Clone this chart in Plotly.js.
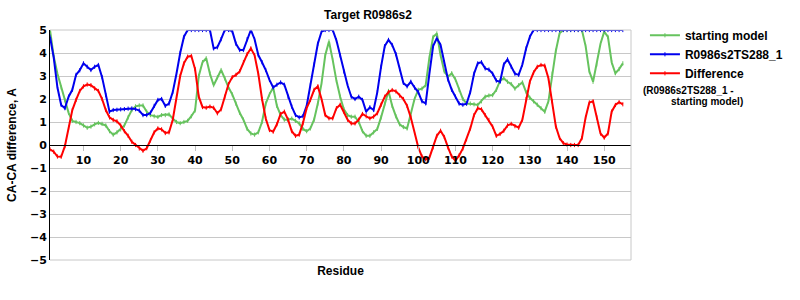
<!DOCTYPE html>
<html>
<head>
<meta charset="utf-8">
<script src="https://cdn.plot.ly/plotly-3.0.1.min.js"></script>
<style>html,body{margin:0;padding:0;background:#fff;}#chart{width:800px;height:300px;}</style>
</head>
<body>
<div id="chart"></div>
<script>
const residues = Array.from({length: 155}, (_, i) => i + 1);

const startingModel = [
  5.0, 3.85, 3.1, 2.5, 1.95, 1.4, 1.05, 1.0, 0.95, 0.85,
  0.75, 0.8, 0.9, 0.96, 0.92, 0.85, 0.6, 0.45, 0.55, 0.68,
  0.85, 1.2, 1.52, 1.68, 1.72, 1.72, 1.45, 1.3, 1.25, 1.22,
  1.3, 1.3, 1.33, 1.15, 1.0, 0.95, 1.0, 1.05, 1.25, 1.5,
  3.0, 3.6, 3.77, 3.1, 2.6, 2.95, 3.26, 2.9, 2.5, 2.2,
  1.8, 1.4, 1.1, 0.7, 0.5, 0.45, 0.55, 1.0, 1.8, 2.2,
  2.5, 1.7, 1.3, 1.1, 1.1, 1.15, 1.05, 0.94, 0.7, 0.6,
  0.72, 1.1, 1.8, 2.68, 3.9, 4.5, 3.7, 2.8, 2.1, 1.55,
  1.3, 1.23, 1.23, 1.0, 0.6, 0.4, 0.4, 0.55, 0.7, 1.2,
  1.8, 2.35, 1.7, 1.25, 0.9, 0.78, 0.72, 1.3, 2.0, 2.4,
  2.45, 2.6, 3.8, 4.7, 4.85, 3.9, 3.2, 2.97, 3.12, 2.85,
  2.4, 2.0, 1.8, 1.8, 1.77, 1.74, 1.9, 2.1, 2.15, 2.17,
  2.4, 2.8, 2.9, 2.75, 2.65, 2.45, 2.6, 2.72, 2.3, 2.05,
  1.9, 1.75, 1.6, 1.45, 1.9, 3.1, 4.1, 4.86, 5.0, 5.0,
  5.0, 5.0, 5.0, 5.0, 4.3, 3.2, 2.75, 3.5, 4.4, 4.93,
  4.7, 3.6, 3.12, 3.3, 3.55
];

const modelTS288 = [
  4.71, 3.8, 2.5, 1.74, 1.6, 2.1, 2.4, 3.05, 3.25, 3.55,
  3.4, 3.26, 3.4, 3.48, 2.95, 2.17, 1.45, 1.52, 1.53, 1.55,
  1.56, 1.58, 1.59, 1.56, 1.5, 1.3, 1.3, 1.4, 1.7, 1.96,
  2.0, 1.7, 1.8, 2.3, 3.1, 4.0, 4.7, 5.0, 5.0, 5.0,
  5.0, 5.0, 5.0, 5.0, 4.2, 4.25, 4.6, 5.0, 5.0, 4.95,
  4.4, 4.13, 4.13, 4.6, 5.0, 4.6, 3.91, 3.6, 3.26, 2.83,
  2.5, 2.62, 2.72, 2.62, 2.1, 1.67, 1.3, 1.2, 1.25, 1.7,
  2.6, 3.5, 4.4, 4.93, 5.0, 5.0, 5.0, 4.55, 3.9, 3.2,
  2.6, 2.1, 2.0, 2.1, 1.96, 1.45, 1.64, 1.52, 2.3, 3.4,
  4.3, 4.57, 4.35, 3.95, 3.3, 2.7, 2.55, 2.75, 2.5, 2.3,
  1.9, 1.81, 3.1, 4.3, 4.64, 4.35, 3.6, 2.85, 2.4, 2.1,
  1.8, 1.75, 1.8, 2.3, 3.1, 3.55, 3.6, 3.33, 3.28, 3.1,
  2.8, 2.75, 3.5, 3.72, 3.4, 3.1, 3.05, 3.5, 4.2, 4.7,
  5.0, 5.0, 5.0, 5.0, 5.0, 5.0, 5.0, 5.0, 5.0, 5.0,
  5.0, 5.0, 5.0, 5.0, 5.0, 5.0, 5.0, 5.0, 5.0, 5.0,
  5.0, 5.0, 5.0, 5.0, 5.0
];

const difference = [
  -0.19, -0.29, -0.5, -0.51, -0.05, 0.75, 1.52, 1.96, 2.35, 2.55,
  2.63, 2.6, 2.46, 2.35, 2.0, 1.52, 1.2, 1.09, 1.03, 0.85,
  0.6, 0.4, 0.14, 0.0, -0.15, -0.25, -0.14, 0.2, 0.55, 0.72,
  0.68, 0.52, 0.55, 1.1, 2.1, 3.0, 3.55, 3.84, 3.87, 3.3,
  2.1, 1.65, 1.62, 1.67, 1.62, 1.38, 1.55, 2.1, 2.65, 2.95,
  3.05, 3.2, 3.6, 3.95, 4.2, 3.9, 3.1, 2.0, 1.15, 0.65,
  0.58, 0.9, 1.35, 1.45, 1.1, 0.6, 0.4, 0.45, 0.95, 1.6,
  1.96, 2.4, 2.55, 2.0, 1.3, 1.16, 1.16, 1.6, 1.75, 1.45,
  1.1, 0.94, 0.94, 1.1, 1.35, 1.25, 1.16, 1.23, 1.38, 1.75,
  2.1, 2.3, 2.39, 2.33, 2.15, 2.0, 1.7, 1.2, 0.55, -0.1,
  -0.5, -0.62, -0.55, -0.1, 0.4, 0.62, 0.35, -0.1, -0.5, -0.68,
  -0.45, -0.15, 0.25, 0.72, 1.3, 1.6, 1.55, 1.3, 1.09, 0.8,
  0.4, 0.48, 0.62, 0.85, 0.92, 0.82, 0.75, 1.1, 2.0, 2.75,
  3.15, 3.4, 3.48, 3.45, 2.9, 1.9, 0.8, 0.3, 0.08, 0.02,
  0.0, 0.0, 0.0, 0.3, 1.2, 1.85, 1.9, 1.2, 0.5, 0.32,
  0.5, 1.45, 1.74, 1.86, 1.77
];

const seriesNames = ['starting model', 'R0986s2TS288_1', 'Difference'];
const xTickVals = [10, 20, 30, 40, 50, 60, 70, 80, 90, 100, 110, 120, 130, 140, 150];
const yTickVals = [-5, -4, -3, -2, -1, 0, 1, 2, 3, 4, 5];
const yTickText = ['\u22125', '\u22124', '\u22123', '\u22122', '\u22121', '0', '1', '2', '3', '4', '5'];

function series(y, name, color) {
  return {
    x: residues, y: y, name: name, type: 'scatter', mode: 'lines+markers',
    line: {color: color, width: 2},
    marker: {color: color, size: 3, symbol: 'line-ns-open', line: {color: color, width: 1}},
    hoverinfo: 'x+y'
  };
}

const data = [
  series(startingModel, seriesNames[0], '#66c35e'),
  series(modelTS288, seriesNames[1], '#0000ee'),
  series(difference, seriesNames[2], '#ff0000')
];

const boldTick = {family: 'DejaVu Sans, Verdana, sans-serif', size: 11, color: '#000', weight: 'bold'};

const layout = {
  width: 800, height: 300,
  margin: {l: 50, r: 140, t: 30, b: 40},
  paper_bgcolor: '#fff', plot_bgcolor: '#fff',
  showlegend: true,
  title: {
    text: '<b>Target R0986s2</b>',
    font: {family: 'Liberation Sans, Arial, sans-serif', size: 12, color: '#000'},
    x: 0.46, xref: 'container', xanchor: 'center',
    y: 0.95, yref: 'container', yanchor: 'middle'
  },
  xaxis: {
    range: [1, 157.2],
    anchor: 'free', position: 0.5,
    tickmode: 'array', tickvals: xTickVals,
    ticks: 'outside', ticklen: 5, tickcolor: '#c0c0c0', tickwidth: 1,
    tickfont: boldTick,
    showgrid: false, zeroline: false,
    showline: true, linecolor: '#000', linewidth: 1,
    title: {
      text: '<b>Residue</b>',
      font: {family: 'Liberation Sans, Arial, sans-serif', size: 12, color: '#000'},
      standoff: 100
    }
  },
  yaxis: {
    range: [-5, 5],
    tickmode: 'array', tickvals: yTickVals, ticktext: yTickText,
    ticks: '', tickfont: boldTick,
    showgrid: true, gridcolor: '#c8c8c8', gridwidth: 1,
    zeroline: false,
    showline: true, linecolor: '#000', linewidth: 1,
    title: {
      text: '<b>CA-CA difference, A</b>',
      font: {family: 'Liberation Sans, Arial, sans-serif', size: 12, color: '#000'},
      standoff: 10
    }
  },
  legend: {
    x: 1.024, xanchor: 'left', y: 1.04, yanchor: 'top',
    font: {family: 'Liberation Sans, Arial, sans-serif', size: 12, color: '#000', weight: 'bold'},
    bgcolor: 'rgba(0,0,0,0)', tracegroupgap: 0, itemwidth: 30
  },
  shapes: [
    {type: 'line', xref: 'paper', yref: 'paper', x0: 1, x1: 1, y0: 0, y1: 1, line: {color: '#c8c8c8', width: 1}},
    {type: 'line', xref: 'paper', yref: 'paper', x0: 0, x1: 1, y0: 0, y1: 0, line: {color: '#c8c8c8', width: 1}},
    {type: 'line', xref: 'paper', yref: 'paper', x0: 0, x1: 1, y0: 1, y1: 1, line: {color: '#c8c8c8', width: 1}}
  ],
  annotations: [
    {text: '<b>(R0986s2TS288_1 -</b>', xref: 'paper', yref: 'paper', x: 1.0164, y: 0.738, xanchor: 'left', yanchor: 'middle', showarrow: false,
     font: {family: 'Liberation Sans, Arial, sans-serif', size: 10, color: '#000'}},
    {text: '<b>starting model)</b>', xref: 'paper', yref: 'paper', x: 1.066, y: 0.69, xanchor: 'left', yanchor: 'middle', showarrow: false,
     font: {family: 'Liberation Sans, Arial, sans-serif', size: 10, color: '#000'}}
  ]
};

Plotly.newPlot('chart', data, layout, {displayModeBar: false, staticPlot: true});
</script>
</body>
</html>
